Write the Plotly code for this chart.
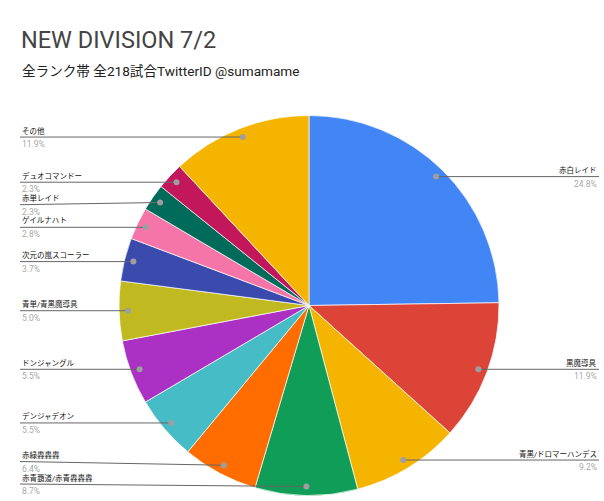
import math
import plotly.graph_objects as go

labels = ["赤白レイド", "黒魔導具", "青黒/ドロマーハンデス", "赤青覇道/赤青轟轟轟", "赤緑轟轟轟",
          "デンジャデオン", "ドンジャングル", "青単/青黒魔導具", "次元の嵐スコーラー", "ゲイルナハト",
          "赤単レイド", "デュオコマンドー", "その他"]
counts = [54, 26, 20, 19, 14, 12, 12, 11, 8, 6, 5, 5, 26]
colors = ["#4285f4", "#db4437", "#f4b400", "#0f9d58", "#ff6d00", "#46bdc6", "#ab30c4",
          "#c0ba20", "#3b4aad", "#f675a8", "#006b5b", "#c2185b", "#f4b400"]

title_text = "NEW DIVISION 7/2"
subtitle_text = "全ランク帯 全218試合TwitterID @sumamame"

W, H = 604, 501
CX, CY, R = 309.0, 305.5, 190.0
DOT_R = 181.0
LEFT_X, RIGHT_X = 20.0, 599.0
GAP, YMAX = 22.5, 484.0

FONT = "Roboto, 'Noto Sans CJK JP', sans-serif"

def px(x):
    return x / W

def py(y):
    return 1 - y / H

total = sum(counts)
fig = go.Figure(go.Pie(
    labels=labels, values=counts, sort=False, direction="clockwise", rotation=0,
    marker=dict(colors=colors, line=dict(color="white", width=0.7)),
    textinfo="none", hoverinfo="label+percent", showlegend=False,
    domain=dict(x=[px(CX - R), px(CX + R)], y=[py(CY + R), py(CY - R)]),
))

# compute dot positions from data
items = []
cum = 0
for lab, v in zip(labels, counts):
    mid = (cum + v / 2) / total * 2 * math.pi
    cum += v
    dx = CX + DOT_R * math.sin(mid)
    dy = CY - DOT_R * math.cos(mid)
    side = "right" if mid < math.pi else "left"
    items.append(dict(label=lab, pct=v / total * 100, dx=dx, dy=dy, side=side, ly=dy))

for side in ("left", "right"):
    group = sorted([it for it in items if it["side"] == side], key=lambda it: it["dy"])
    for i in range(1, len(group)):
        group[i]["ly"] = max(group[i]["ly"], group[i - 1]["ly"] + GAP)
    if group:
        group[-1]["ly"] = min(group[-1]["ly"], YMAX)
        for i in range(len(group) - 2, -1, -1):
            group[i]["ly"] = min(group[i]["ly"], group[i + 1]["ly"] - GAP)

shapes = []
annotations = []
for it in items:
    lx = LEFT_X if it["side"] == "left" else RIGHT_X
    shapes.append(dict(type="line", xref="paper", yref="paper",
                       x0=px(lx), y0=py(it["ly"]), x1=px(it["dx"]), y1=py(it["dy"]),
                       line=dict(color="#666666", width=1)))
    shapes.append(dict(type="circle", xref="paper", yref="paper",
                       x0=px(it["dx"] - 3), y0=py(it["dy"] - 3), x1=px(it["dx"] + 3), y1=py(it["dy"] + 3),
                       fillcolor="#9e9e9e", line=dict(width=0)))
    anchor = "left" if it["side"] == "left" else "right"
    annotations.append(dict(xref="paper", yref="paper", x=px(lx), y=py(it["ly"] - 6.5),
                            xanchor=anchor, yanchor="middle", showarrow=False,
                            text=it["label"], font=dict(family=FONT, size=7.5, color="#111111")))
    annotations.append(dict(xref="paper", yref="paper", x=px(lx), y=py(it["ly"] + 7),
                            xanchor=anchor, yanchor="middle", showarrow=False,
                            text=f"{it['pct']:.1f}%", font=dict(family=FONT, size=8.5, color="#a8a8a8")))

annotations.append(dict(xref="paper", yref="paper", x=px(19), y=py(40), xanchor="left", yanchor="middle",
                        showarrow=False, text=title_text, font=dict(family=FONT, size=23.5, color="#444444")))
annotations.append(dict(xref="paper", yref="paper", x=px(20), y=py(71), xanchor="left", yanchor="middle",
                        showarrow=False, text=subtitle_text, font=dict(family=FONT, size=13.6, color="#222222")))

fig.update_layout(width=W, height=H, margin=dict(l=0, r=0, t=0, b=0),
                  paper_bgcolor="white", plot_bgcolor="white",
                  shapes=shapes, annotations=annotations)

fig.write_html("out.html")
